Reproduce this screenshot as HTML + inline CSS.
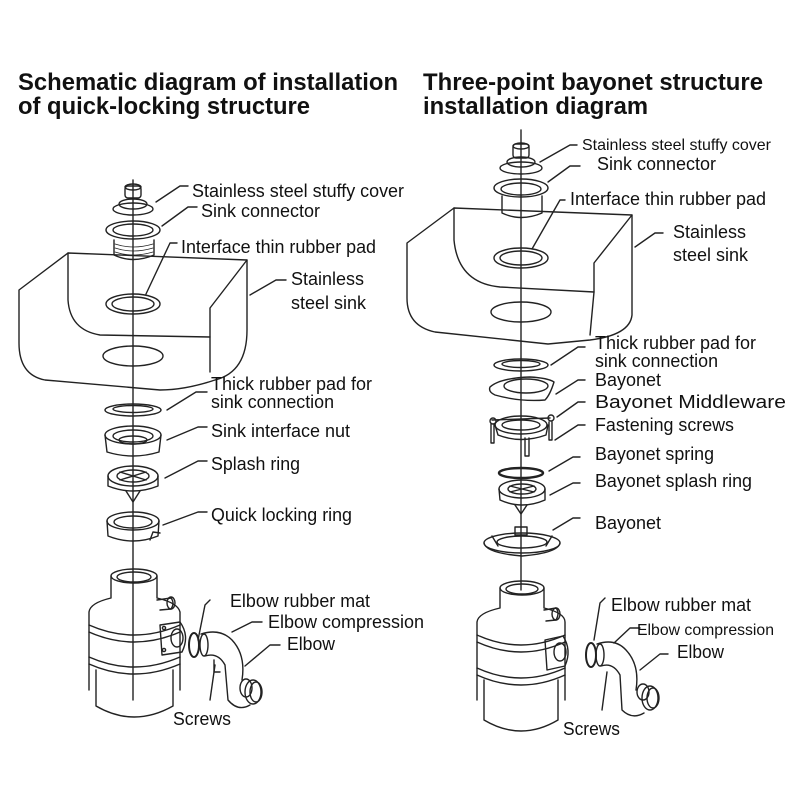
<!DOCTYPE html>
<html><head><meta charset="utf-8"><style>
html,body{margin:0;padding:0;background:#fff}
svg{display:block}
text{font-family:"Liberation Sans",sans-serif;fill:#111}
.t{font-weight:bold;font-size:24px}
.l{font-size:18px}
.r{font-size:16px}
</style></head><body>
<svg width="800" height="800" viewBox="0 0 800 800" xmlns="http://www.w3.org/2000/svg">
<g fill="none" stroke="#222" stroke-width="1.4" stroke-linejoin="round" stroke-linecap="round">

<line x1="133" y1="180" x2="133" y2="700"/>
<rect x="125" y="186" width="16" height="12" rx="3"/>
<ellipse cx="133" cy="187" rx="8" ry="3"/>
<ellipse cx="133" cy="204" rx="14" ry="5"/>
<ellipse cx="133" cy="209" rx="20" ry="6"/>
<ellipse cx="133" cy="230" rx="27" ry="9"/>
<ellipse cx="133" cy="230" rx="20" ry="6"/>
<path d="M114 240 L114 255 Q133 264 154 255 L154 240"/>
<path d="M115 244 Q133 250 153 244 M115 248 Q133 254 153 248 M115 252 Q133 258 153 252" stroke-width="0.8"/>
<path d="M68 253 L247 260 L247 330 Q247 372 215 380 Q185 390 160 390 L45 380 Q19 375 19 343 L19 290 Z"/>
<path d="M68 253 L68 300 Q70 330 100 335 L210 337 L210 308 L247 260"/>
<path d="M210 337 L210 372"/>
<ellipse cx="133" cy="304" rx="27" ry="10"/>
<ellipse cx="133" cy="304" rx="21" ry="7"/>
<ellipse cx="133" cy="356" rx="30" ry="10"/>
<ellipse cx="133" cy="410" rx="28" ry="6"/>
<ellipse cx="133" cy="409" rx="20" ry="3.5"/>
<ellipse cx="133" cy="435" rx="28" ry="9"/>
<ellipse cx="133" cy="436" rx="20" ry="6"/>
<ellipse cx="133" cy="440" rx="14" ry="4"/>
<path d="M105 435 L107 452 Q133 460 159 452 L161 435"/>
<ellipse cx="133" cy="476" rx="25" ry="10"/>
<ellipse cx="133" cy="476" rx="16" ry="6"/>
<path d="M120 472 L146 480 M146 472 L120 480"/>
<path d="M108 476 L108 486 Q133 496 158 486 L158 476"/>
<path d="M126 491 L133 502 L140 491"/>
<ellipse cx="133" cy="521" rx="26" ry="9"/>
<ellipse cx="133" cy="522" rx="19" ry="6"/>
<path d="M107 521 L108 536 Q133 546 158 536 L159 521"/>
<path d="M150 540 L153 532 L160 533"/>

<ellipse cx="134" cy="576" rx="23" ry="7"/>
<ellipse cx="134" cy="577" rx="17" ry="5"/>
<path d="M111 576 L111 598 Q90 603 89 612 L89 690 M157 576 L157 598 Q178 603 180 612 L180 690"/>
<path d="M89 625 Q134 645 180 625 M89 632 Q134 652 180 632 M89 657 Q134 677 180 657 M89 664 Q134 684 180 664"/>
<path d="M96 670 L96 706 Q134 728 173 706 L173 670"/>
<path d="M157 600 L171 598 Q175 603 171 609 L160 610"/>
<ellipse cx="171" cy="603" rx="4" ry="6"/>
<path d="M160 625 L180 622 Q190 636 182 652 L162 655 Z"/>
<ellipse cx="177" cy="638" rx="6" ry="9"/>
<circle cx="164" cy="628" r="1.6"/><circle cx="164" cy="650" r="1.6"/>
<ellipse cx="194" cy="645" rx="5" ry="12" stroke-width="2"/>
<path d="M201 634 Q220 628 232 640 Q246 655 242 680 M205 656 Q218 652 225 665 L228 700 Q238 712 250 705"/>
<ellipse cx="204" cy="645" rx="4" ry="11"/>
<ellipse cx="246" cy="688" rx="6" ry="9"/>
<ellipse cx="253" cy="692" rx="8" ry="12"/>
<ellipse cx="256" cy="692" rx="6" ry="10"/>
<path d="M214 660 L214 672 L220 672"/>

<line x1="521" y1="130" x2="521" y2="590"/>
<rect x="513" y="144" width="16" height="14" rx="3"/>
<ellipse cx="521" cy="146" rx="8" ry="3"/>
<ellipse cx="521" cy="162" rx="14" ry="5"/>
<ellipse cx="521" cy="168" rx="21" ry="6"/>
<ellipse cx="521" cy="188" rx="27" ry="9"/>
<ellipse cx="521" cy="189" rx="20" ry="6"/>
<path d="M502 196 L502 213 Q521 222 542 213 L542 196"/>
<path d="M454 208 L632 215 L632 315 Q630 335 590 340 L548 344 L435 332 Q407 326 407 298 L407 243 Z"/>
<path d="M454 208 L454 240 Q458 283 500 287 L594 292 L594 263 L632 215"/>
<path d="M594 292 L590 335"/>
<ellipse cx="521" cy="258" rx="27" ry="10"/>
<ellipse cx="521" cy="258" rx="21" ry="7"/>
<ellipse cx="521" cy="312" rx="30" ry="10"/>
<ellipse cx="521" cy="365" rx="27" ry="6"/>
<ellipse cx="521" cy="364" rx="19" ry="3.5"/>
<path d="M490 387 Q500 378 530 377 Q548 378 554 382 Q550 395 545 400 Q520 402 495 395 Q488 392 490 387 Z"/>
<ellipse cx="526" cy="386" rx="22" ry="7"/>
<ellipse cx="521" cy="425" rx="26" ry="9"/>
<ellipse cx="521" cy="425" rx="19" ry="5"/>
<path d="M495 425 L498 435 Q521 444 546 435 L548 425"/>
<path d="M492 420 L550 418"/>
<circle cx="493" cy="421" r="3"/><circle cx="551" cy="418" r="3"/>
<path d="M491 424 L491 443 L494 443 L494 424 M549 422 L549 440 L552 440 L552 422 M525 438 L525 456 L529 456 L529 438"/>
<ellipse cx="521" cy="473" rx="22" ry="5" stroke-width="2.4"/>
<ellipse cx="522" cy="489" rx="23" ry="9"/>
<ellipse cx="522" cy="489" rx="14" ry="5"/>
<path d="M510 486 L534 492 M534 486 L510 492"/>
<path d="M499 489 L500 500 Q522 510 545 500 L545 489"/>
<path d="M515 505 L521 514 L527 505"/>
<rect x="515" y="527" width="12" height="8"/>
<ellipse cx="522" cy="543" rx="38" ry="10"/>
<ellipse cx="522" cy="542" rx="25" ry="6"/>
<path d="M484 543 Q486 553 522 556 Q558 553 560 543"/>
<path d="M492 536 L498 546 M552 536 L546 546"/>

<ellipse cx="522" cy="588" rx="22" ry="7"/>
<ellipse cx="522" cy="589" rx="16" ry="5"/>
<path d="M500 588 L500 608 Q478 613 477 622 L477 700 M544 588 L544 608 Q565 613 565 622 L565 700"/>
<path d="M477 635 Q521 655 565 635 M477 642 Q521 662 565 642 M477 668 Q521 688 565 668 M477 675 Q521 695 565 675"/>
<path d="M484 680 L484 720 Q521 742 558 720 L558 680"/>
<path d="M544 610 L556 608 Q560 613 556 620 L546 621"/>
<ellipse cx="556" cy="614" rx="4" ry="6"/>
<path d="M545 640 L563 636 Q572 650 565 666 L547 670 Z"/>
<ellipse cx="560" cy="652" rx="6" ry="9"/>
<ellipse cx="591" cy="655" rx="5" ry="12" stroke-width="2"/>
<path d="M597 644 Q615 638 626 650 Q640 665 636 690 M601 666 Q613 662 620 675 L622 710 Q632 720 644 713"/>
<ellipse cx="600" cy="655" rx="4" ry="11"/>
<ellipse cx="643" cy="692" rx="6" ry="8"/>
<ellipse cx="650" cy="698" rx="8" ry="12"/>
<ellipse cx="653" cy="698" rx="6" ry="10"/>

<path d="M188 186 L180 186 L156 202"/>
<path d="M197 207 L188 207 L162 226"/>
<path d="M177 243 L170 243 L146 294"/>
<path d="M286 280 L276 280 L250 295"/>
<path d="M207 392 L196 392 L167 410"/>
<path d="M207 427 L198 427 L167 440"/>
<path d="M207 461 L198 461 L165 478"/>
<path d="M207 512 L198 512 L163 525"/>
<path d="M210 600 L205 605 L198 640"/>
<path d="M262 622 L252 622 L232 632"/>
<path d="M280 645 L270 645 L245 666"/>
<path d="M215 665 L210 700"/>
<path d="M577 145 L570 145 L540 162"/>
<path d="M580 166 L570 166 L548 182"/>
<path d="M565 200 L560 200 L532 249"/>
<path d="M663 233 L655 233 L635 247"/>
<path d="M585 347 L578 347 L551 365"/>
<path d="M585 380 L578 380 L556 394"/>
<path d="M585 402 L578 402 L557 417"/>
<path d="M585 425 L578 425 L555 440"/>
<path d="M580 457 L573 457 L549 471"/>
<path d="M580 483 L573 483 L550 495"/>
<path d="M580 518 L573 518 L553 530"/>
<path d="M605 598 L600 603 L594 640"/>
<path d="M640 628 L630 628 L614 643"/>
<path d="M668 654 L660 654 L640 670"/>
<path d="M607 672 L602 710"/>
</g>

<text class="t" x="18" y="90" textLength="380" lengthAdjust="spacingAndGlyphs">Schematic diagram of installation</text>
<text class="t" x="18" y="114" textLength="292" lengthAdjust="spacingAndGlyphs">of quick-locking structure</text>
<text class="t" x="423" y="90" textLength="340" lengthAdjust="spacingAndGlyphs">Three-point bayonet structure</text>
<text class="t" x="423" y="114" textLength="225" lengthAdjust="spacingAndGlyphs">installation diagram</text>

<text class="l" x="192" y="197" textLength="212" lengthAdjust="spacingAndGlyphs">Stainless steel stuffy cover</text>
<text class="l" x="201" y="217" textLength="119" lengthAdjust="spacingAndGlyphs">Sink connector</text>
<text class="l" x="181" y="253" textLength="195" lengthAdjust="spacingAndGlyphs">Interface thin rubber pad</text>
<text class="l" x="291" y="285" textLength="73" lengthAdjust="spacingAndGlyphs">Stainless</text>
<text class="l" x="291" y="309" textLength="75" lengthAdjust="spacingAndGlyphs">steel sink</text>
<text class="l" x="211" y="390" textLength="161" lengthAdjust="spacingAndGlyphs">Thick rubber pad for</text>
<text class="l" x="211" y="408" textLength="123" lengthAdjust="spacingAndGlyphs">sink connection</text>
<text class="l" x="211" y="437" textLength="139" lengthAdjust="spacingAndGlyphs">Sink interface nut</text>
<text class="l" x="211" y="470" textLength="89" lengthAdjust="spacingAndGlyphs">Splash ring</text>
<text class="l" x="211" y="521" textLength="141" lengthAdjust="spacingAndGlyphs">Quick locking ring</text>
<text class="l" x="230" y="607" textLength="140" lengthAdjust="spacingAndGlyphs">Elbow rubber mat</text>
<text class="l" x="268" y="628" textLength="156" lengthAdjust="spacingAndGlyphs">Elbow compression</text>
<text class="l" x="287" y="650" textLength="48" lengthAdjust="spacingAndGlyphs">Elbow</text>
<text class="l" x="173" y="725" textLength="58" lengthAdjust="spacingAndGlyphs">Screws</text>

<text class="r" x="582" y="150" textLength="189" lengthAdjust="spacingAndGlyphs">Stainless steel stuffy cover</text>
<text class="l" x="597" y="170" textLength="119" lengthAdjust="spacingAndGlyphs">Sink connector</text>
<text class="l" x="570" y="205" textLength="196" lengthAdjust="spacingAndGlyphs">Interface thin rubber pad</text>
<text class="l" x="673" y="238" textLength="73" lengthAdjust="spacingAndGlyphs">Stainless</text>
<text class="l" x="673" y="261" textLength="75" lengthAdjust="spacingAndGlyphs">steel sink</text>
<text class="l" x="595" y="349" textLength="161" lengthAdjust="spacingAndGlyphs">Thick rubber pad for</text>
<text class="l" x="595" y="367" textLength="123" lengthAdjust="spacingAndGlyphs">sink connection</text>
<text class="l" x="595" y="386" textLength="66" lengthAdjust="spacingAndGlyphs">Bayonet</text>
<text class="l" x="595" y="408" textLength="191" lengthAdjust="spacingAndGlyphs">Bayonet Middleware</text>
<text class="l" x="595" y="431" textLength="139" lengthAdjust="spacingAndGlyphs">Fastening screws</text>
<text class="l" x="595" y="460" textLength="119" lengthAdjust="spacingAndGlyphs">Bayonet spring</text>
<text class="l" x="595" y="487" textLength="157" lengthAdjust="spacingAndGlyphs">Bayonet splash ring</text>
<text class="l" x="595" y="529" textLength="66" lengthAdjust="spacingAndGlyphs">Bayonet</text>
<text class="l" x="611" y="611" textLength="140" lengthAdjust="spacingAndGlyphs">Elbow rubber mat</text>
<text class="r" x="637" y="635" textLength="137" lengthAdjust="spacingAndGlyphs">Elbow compression</text>
<text class="l" x="677" y="658" textLength="47" lengthAdjust="spacingAndGlyphs">Elbow</text>
<text class="l" x="563" y="735" textLength="57" lengthAdjust="spacingAndGlyphs">Screws</text>
</svg>
</body></html>
